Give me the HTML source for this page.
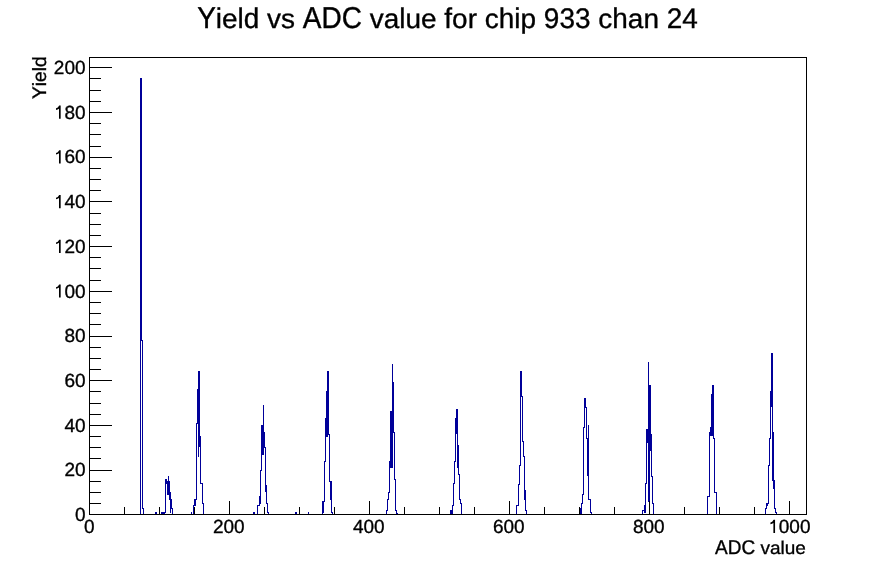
<!DOCTYPE html>
<html><head><meta charset="utf-8"><style>
html,body{margin:0;padding:0;background:#fff;width:896px;height:572px;overflow:hidden}
svg{display:block;position:absolute;left:0;top:0}
.t{filter:grayscale(1)}
text{font-family:"Liberation Sans",sans-serif;fill:#000;text-rendering:geometricPrecision}
.t text,.t path{stroke:#000;stroke-width:0.35px}
</style></head><body>
<svg width="896" height="572" viewBox="0 0 896 572">
<rect x="0" y="0" width="896" height="572" fill="#fff"/>
<g fill="#000099" shape-rendering="crispEdges"><rect x="140" y="78" width="1" height="437"/><rect x="140" y="78" width="2" height="1"/><rect x="141" y="78" width="1" height="263"/><rect x="141" y="340" width="2" height="1"/><rect x="142" y="340" width="1" height="169"/><rect x="142" y="508" width="2" height="1"/><rect x="143" y="508" width="1" height="7"/><rect x="155" y="512" width="1" height="3"/><rect x="155" y="512" width="2" height="1"/><rect x="156" y="512" width="1" height="3"/><rect x="161" y="512" width="1" height="3"/><rect x="161" y="512" width="5" height="1"/><rect x="165" y="479" width="1" height="34"/><rect x="165" y="479" width="2" height="1"/><rect x="166" y="479" width="1" height="5"/><rect x="166" y="483" width="2" height="1"/><rect x="167" y="481" width="1" height="3"/><rect x="167" y="481" width="2" height="1"/><rect x="168" y="476" width="1" height="6"/><rect x="168" y="476" width="1" height="6"/><rect x="168" y="481" width="2" height="1"/><rect x="169" y="481" width="1" height="12"/><rect x="169" y="492" width="2" height="1"/><rect x="170" y="492" width="1" height="8"/><rect x="170" y="499" width="2" height="1"/><rect x="171" y="499" width="1" height="10"/><rect x="171" y="508" width="2" height="1"/><rect x="172" y="508" width="1" height="7"/><rect x="167" y="483" width="1" height="12"/><rect x="168" y="481" width="1" height="14"/><rect x="169" y="492" width="1" height="8"/><rect x="170" y="499" width="1" height="14"/><rect x="161" y="513" width="4" height="1"/><rect x="191" y="512" width="1" height="3"/><rect x="191" y="512" width="1" height="3"/><rect x="193" y="505" width="1" height="10"/><rect x="193" y="505" width="2" height="1"/><rect x="194" y="499" width="1" height="7"/><rect x="194" y="499" width="3" height="1"/><rect x="196" y="423" width="1" height="77"/><rect x="196" y="423" width="2" height="1"/><rect x="197" y="389" width="1" height="35"/><rect x="197" y="389" width="2" height="1"/><rect x="198" y="371" width="1" height="19"/><rect x="198" y="371" width="2" height="1"/><rect x="199" y="371" width="1" height="66"/><rect x="199" y="436" width="2" height="1"/><rect x="200" y="436" width="1" height="48"/><rect x="200" y="483" width="3" height="1"/><rect x="202" y="483" width="1" height="21"/><rect x="202" y="503" width="2" height="1"/><rect x="203" y="503" width="1" height="12"/><rect x="198" y="389" width="1" height="68"/><rect x="195" y="499" width="1" height="7"/><rect x="199" y="436" width="1" height="11"/><rect x="253" y="512" width="1" height="3"/><rect x="253" y="512" width="2" height="1"/><rect x="254" y="512" width="1" height="3"/><rect x="257" y="505" width="1" height="10"/><rect x="257" y="505" width="3" height="1"/><rect x="259" y="496" width="1" height="10"/><rect x="259" y="496" width="2" height="1"/><rect x="260" y="470" width="1" height="27"/><rect x="260" y="470" width="2" height="1"/><rect x="261" y="425" width="1" height="46"/><rect x="261" y="425" width="3" height="1"/><rect x="263" y="405" width="1" height="21"/><rect x="263" y="405" width="1" height="28"/><rect x="263" y="432" width="2" height="1"/><rect x="264" y="432" width="1" height="16"/><rect x="264" y="447" width="2" height="1"/><rect x="265" y="447" width="1" height="39"/><rect x="265" y="485" width="2" height="1"/><rect x="266" y="485" width="1" height="19"/><rect x="266" y="503" width="2" height="1"/><rect x="267" y="503" width="1" height="10"/><rect x="267" y="512" width="2" height="1"/><rect x="268" y="512" width="1" height="3"/><rect x="262" y="425" width="1" height="30"/><rect x="263" y="425" width="1" height="30"/><rect x="259" y="496" width="1" height="8"/><rect x="260" y="496" width="1" height="8"/><rect x="265" y="485" width="1" height="7"/><rect x="266" y="485" width="1" height="7"/><rect x="295" y="512" width="1" height="3"/><rect x="295" y="512" width="2" height="1"/><rect x="296" y="512" width="1" height="3"/><rect x="308" y="512" width="1" height="3"/><rect x="322" y="512" width="1" height="3"/><rect x="322" y="512" width="2" height="1"/><rect x="323" y="501" width="1" height="12"/><rect x="323" y="501" width="2" height="1"/><rect x="324" y="461" width="1" height="41"/><rect x="324" y="461" width="2" height="1"/><rect x="325" y="418" width="1" height="44"/><rect x="325" y="418" width="2" height="1"/><rect x="326" y="391" width="1" height="28"/><rect x="326" y="391" width="2" height="1"/><rect x="327" y="371" width="1" height="21"/><rect x="327" y="371" width="2" height="1"/><rect x="328" y="371" width="1" height="64"/><rect x="328" y="434" width="2" height="1"/><rect x="329" y="434" width="1" height="48"/><rect x="329" y="481" width="2" height="1"/><rect x="330" y="481" width="1" height="19"/><rect x="330" y="499" width="2" height="1"/><rect x="331" y="499" width="1" height="14"/><rect x="331" y="512" width="2" height="1"/><rect x="332" y="512" width="1" height="3"/><rect x="326" y="391" width="1" height="46"/><rect x="327" y="371" width="1" height="66"/><rect x="322" y="501" width="1" height="12"/><rect x="331" y="481" width="1" height="19"/><rect x="386" y="510" width="1" height="5"/><rect x="386" y="510" width="2" height="1"/><rect x="387" y="499" width="1" height="12"/><rect x="387" y="499" width="2" height="1"/><rect x="388" y="492" width="1" height="8"/><rect x="388" y="492" width="2" height="1"/><rect x="389" y="461" width="1" height="32"/><rect x="389" y="461" width="2" height="1"/><rect x="390" y="411" width="1" height="51"/><rect x="390" y="411" width="3" height="1"/><rect x="392" y="364" width="1" height="48"/><rect x="392" y="364" width="1" height="19"/><rect x="392" y="382" width="2" height="1"/><rect x="393" y="382" width="1" height="51"/><rect x="393" y="432" width="2" height="1"/><rect x="394" y="432" width="1" height="48"/><rect x="394" y="479" width="2" height="1"/><rect x="395" y="479" width="1" height="32"/><rect x="395" y="510" width="2" height="1"/><rect x="396" y="510" width="1" height="4"/><rect x="396" y="513" width="2" height="1"/><rect x="397" y="513" width="1" height="2"/><rect x="391" y="411" width="1" height="57"/><rect x="392" y="382" width="1" height="86"/><rect x="390" y="411" width="1" height="57"/><rect x="450" y="510" width="1" height="5"/><rect x="450" y="510" width="3" height="1"/><rect x="452" y="505" width="1" height="6"/><rect x="452" y="505" width="2" height="1"/><rect x="453" y="483" width="1" height="23"/><rect x="453" y="483" width="2" height="1"/><rect x="454" y="461" width="1" height="23"/><rect x="454" y="461" width="2" height="1"/><rect x="455" y="418" width="1" height="44"/><rect x="455" y="418" width="2" height="1"/><rect x="456" y="409" width="1" height="10"/><rect x="456" y="409" width="2" height="1"/><rect x="457" y="409" width="1" height="37"/><rect x="457" y="445" width="2" height="1"/><rect x="458" y="445" width="1" height="30"/><rect x="458" y="474" width="2" height="1"/><rect x="459" y="474" width="1" height="26"/><rect x="459" y="499" width="2" height="1"/><rect x="460" y="499" width="1" height="5"/><rect x="460" y="503" width="2" height="1"/><rect x="461" y="503" width="1" height="12"/><rect x="451" y="510" width="1" height="5"/><rect x="452" y="510" width="1" height="5"/><rect x="456" y="409" width="1" height="25"/><rect x="457" y="445" width="1" height="23"/><rect x="516" y="505" width="1" height="10"/><rect x="516" y="505" width="3" height="1"/><rect x="518" y="484" width="1" height="22"/><rect x="518" y="484" width="2" height="1"/><rect x="519" y="465" width="1" height="20"/><rect x="519" y="465" width="2" height="1"/><rect x="520" y="371" width="1" height="95"/><rect x="520" y="371" width="2" height="1"/><rect x="521" y="371" width="1" height="26"/><rect x="521" y="396" width="2" height="1"/><rect x="522" y="396" width="1" height="46"/><rect x="522" y="441" width="2" height="1"/><rect x="523" y="441" width="1" height="16"/><rect x="523" y="456" width="2" height="1"/><rect x="524" y="456" width="1" height="44"/><rect x="524" y="499" width="2" height="1"/><rect x="525" y="499" width="1" height="12"/><rect x="525" y="510" width="2" height="1"/><rect x="526" y="510" width="1" height="5"/><rect x="524" y="490" width="1" height="10"/><rect x="525" y="490" width="1" height="10"/><rect x="526" y="510" width="1" height="5"/><rect x="580" y="508" width="1" height="7"/><rect x="580" y="508" width="2" height="1"/><rect x="581" y="503" width="1" height="6"/><rect x="581" y="503" width="2" height="1"/><rect x="582" y="494" width="1" height="10"/><rect x="582" y="494" width="2" height="1"/><rect x="583" y="427" width="1" height="68"/><rect x="583" y="427" width="2" height="1"/><rect x="584" y="398" width="1" height="30"/><rect x="584" y="398" width="2" height="1"/><rect x="585" y="398" width="1" height="10"/><rect x="585" y="407" width="2" height="1"/><rect x="586" y="407" width="1" height="32"/><rect x="586" y="438" width="2" height="1"/><rect x="587" y="438" width="1" height="38"/><rect x="588" y="425" width="1" height="75"/><rect x="588" y="499" width="3" height="1"/><rect x="590" y="499" width="1" height="14"/><rect x="590" y="512" width="2" height="1"/><rect x="591" y="512" width="1" height="3"/><rect x="581" y="508" width="1" height="7"/><rect x="584" y="398" width="1" height="10"/><rect x="587" y="438" width="2" height="1"/><rect x="642" y="510" width="1" height="5"/><rect x="642" y="510" width="3" height="1"/><rect x="644" y="505" width="1" height="6"/><rect x="644" y="505" width="2" height="1"/><rect x="645" y="483" width="1" height="23"/><rect x="645" y="483" width="2" height="1"/><rect x="646" y="429" width="1" height="55"/><rect x="646" y="429" width="3" height="1"/><rect x="648" y="362" width="1" height="68"/><rect x="648" y="362" width="1" height="24"/><rect x="648" y="385" width="3" height="1"/><rect x="650" y="385" width="1" height="50"/><rect x="650" y="434" width="2" height="1"/><rect x="651" y="434" width="1" height="43"/><rect x="651" y="476" width="2" height="1"/><rect x="652" y="476" width="1" height="28"/><rect x="652" y="503" width="2" height="1"/><rect x="653" y="503" width="1" height="12"/><rect x="644" y="505" width="1" height="8"/><rect x="645" y="505" width="1" height="8"/><rect x="647" y="429" width="1" height="14"/><rect x="648" y="385" width="1" height="117"/><rect x="649" y="385" width="1" height="116"/><rect x="650" y="434" width="1" height="17"/><rect x="707" y="496" width="1" height="19"/><rect x="707" y="496" width="3" height="1"/><rect x="709" y="432" width="1" height="65"/><rect x="709" y="432" width="2" height="1"/><rect x="710" y="427" width="1" height="6"/><rect x="710" y="427" width="2" height="1"/><rect x="711" y="394" width="1" height="34"/><rect x="711" y="394" width="2" height="1"/><rect x="712" y="385" width="1" height="10"/><rect x="712" y="385" width="2" height="1"/><rect x="713" y="385" width="1" height="54"/><rect x="713" y="438" width="2" height="1"/><rect x="714" y="438" width="1" height="55"/><rect x="714" y="492" width="3" height="1"/><rect x="716" y="492" width="1" height="23"/><rect x="710" y="427" width="1" height="9"/><rect x="711" y="394" width="1" height="42"/><rect x="712" y="385" width="1" height="51"/><rect x="765" y="508" width="1" height="7"/><rect x="765" y="508" width="2" height="1"/><rect x="766" y="503" width="1" height="6"/><rect x="766" y="503" width="3" height="1"/><rect x="768" y="465" width="1" height="39"/><rect x="768" y="465" width="2" height="1"/><rect x="769" y="438" width="1" height="28"/><rect x="769" y="438" width="2" height="1"/><rect x="770" y="391" width="1" height="48"/><rect x="770" y="391" width="2" height="1"/><rect x="771" y="353" width="1" height="39"/><rect x="771" y="353" width="2" height="1"/><rect x="772" y="353" width="1" height="80"/><rect x="772" y="432" width="2" height="1"/><rect x="773" y="432" width="1" height="49"/><rect x="773" y="480" width="2" height="1"/><rect x="774" y="480" width="1" height="29"/><rect x="774" y="508" width="2" height="1"/><rect x="775" y="508" width="1" height="5"/><rect x="775" y="512" width="2" height="1"/><rect x="776" y="512" width="1" height="3"/><rect x="771" y="353" width="1" height="54"/><rect x="772" y="432" width="1" height="49"/><rect x="773" y="480" width="1" height="9"/><rect x="767" y="503" width="1" height="3"/><rect x="766" y="503" width="1" height="3"/></g>
<g fill="#000" shape-rendering="crispEdges"><rect x="89" y="57" width="718" height="1"/><rect x="89" y="514" width="718" height="1"/><rect x="89" y="57" width="1" height="458"/><rect x="806" y="57" width="1" height="458"/><rect x="89" y="514" width="23" height="1"/><rect x="89" y="503" width="12" height="1"/><rect x="89" y="492" width="12" height="1"/><rect x="89" y="481" width="12" height="1"/><rect x="89" y="470" width="23" height="1"/><rect x="89" y="458" width="12" height="1"/><rect x="89" y="447" width="12" height="1"/><rect x="89" y="436" width="12" height="1"/><rect x="89" y="425" width="23" height="1"/><rect x="89" y="414" width="12" height="1"/><rect x="89" y="403" width="12" height="1"/><rect x="89" y="391" width="12" height="1"/><rect x="89" y="380" width="23" height="1"/><rect x="89" y="369" width="12" height="1"/><rect x="89" y="358" width="12" height="1"/><rect x="89" y="347" width="12" height="1"/><rect x="89" y="336" width="23" height="1"/><rect x="89" y="324" width="12" height="1"/><rect x="89" y="313" width="12" height="1"/><rect x="89" y="302" width="12" height="1"/><rect x="89" y="291" width="23" height="1"/><rect x="89" y="280" width="12" height="1"/><rect x="89" y="268" width="12" height="1"/><rect x="89" y="257" width="12" height="1"/><rect x="89" y="246" width="23" height="1"/><rect x="89" y="235" width="12" height="1"/><rect x="89" y="224" width="12" height="1"/><rect x="89" y="213" width="12" height="1"/><rect x="89" y="201" width="23" height="1"/><rect x="89" y="190" width="12" height="1"/><rect x="89" y="179" width="12" height="1"/><rect x="89" y="168" width="12" height="1"/><rect x="89" y="157" width="23" height="1"/><rect x="89" y="146" width="12" height="1"/><rect x="89" y="134" width="12" height="1"/><rect x="89" y="123" width="12" height="1"/><rect x="89" y="112" width="23" height="1"/><rect x="89" y="101" width="12" height="1"/><rect x="89" y="90" width="12" height="1"/><rect x="89" y="78" width="12" height="1"/><rect x="89" y="67" width="23" height="1"/><rect x="89" y="501" width="1" height="14"/><rect x="124" y="507" width="1" height="8"/><rect x="159" y="507" width="1" height="8"/><rect x="194" y="507" width="1" height="8"/><rect x="229" y="501" width="1" height="14"/><rect x="264" y="507" width="1" height="8"/><rect x="299" y="507" width="1" height="8"/><rect x="334" y="507" width="1" height="8"/><rect x="369" y="501" width="1" height="14"/><rect x="404" y="507" width="1" height="8"/><rect x="439" y="507" width="1" height="8"/><rect x="474" y="507" width="1" height="8"/><rect x="509" y="501" width="1" height="14"/><rect x="544" y="507" width="1" height="8"/><rect x="579" y="507" width="1" height="8"/><rect x="614" y="507" width="1" height="8"/><rect x="649" y="501" width="1" height="14"/><rect x="684" y="507" width="1" height="8"/><rect x="719" y="507" width="1" height="8"/><rect x="754" y="507" width="1" height="8"/><rect x="789" y="501" width="1" height="14"/></g>
</svg>
<svg class="t" width="896" height="572" viewBox="0 0 896 572">
<g font-size="27.97"><text transform="translate(197.14,27.8) scale(1,1.08)">Y</text><text transform="translate(215.80,27.8) scale(1,1.02)">i</text><text transform="translate(222.01,27.8) scale(1,0.975)">e</text><text transform="translate(237.57,27.8) scale(1,1.02)">l</text><text transform="translate(243.79,27.8) scale(1,1.02)">d</text><text transform="translate(267.12,27.8) scale(1,0.975)">v</text><text transform="translate(281.10,27.8) scale(1,0.975)">s</text><text transform="translate(302.86,27.8) scale(1,1.08)">A</text><text transform="translate(321.52,27.8) scale(1,1.08)">D</text><text transform="translate(341.72,27.8) scale(1,1.08)">C</text><text transform="translate(369.69,27.8) scale(1,0.975)">v</text><text transform="translate(383.68,27.8) scale(1,0.975)">a</text><text transform="translate(399.24,27.8) scale(1,1.02)">l</text><text transform="translate(405.45,27.8) scale(1,0.975)">u</text><text transform="translate(421.01,27.8) scale(1,0.975)">e</text><text transform="translate(444.34,27.8) scale(1,1.02)">f</text><text transform="translate(452.11,27.8) scale(1,0.975)">o</text><text transform="translate(467.66,27.8) scale(1,0.975)">r</text><text transform="translate(484.75,27.8) scale(1,0.975)">c</text><text transform="translate(498.74,27.8) scale(1,1.02)">h</text><text transform="translate(514.30,27.8) scale(1,1.02)">i</text><text transform="translate(520.51,27.8) scale(1,0.975)">p</text><text transform="translate(543.84,27.8) scale(1,1.01)">9</text><text transform="translate(559.40,27.8) scale(1,1.01)">3</text><text transform="translate(574.95,27.8) scale(1,1.01)">3</text><text transform="translate(598.28,27.8) scale(1,0.975)">c</text><text transform="translate(612.27,27.8) scale(1,1.02)">h</text><text transform="translate(627.83,27.8) scale(1,0.975)">a</text><text transform="translate(643.38,27.8) scale(1,0.975)">n</text><text transform="translate(666.71,27.8) scale(1,1.01)">2</text><text transform="translate(682.27,27.8) scale(1,1.01)">4</text></g>
<g font-size="19"><text transform="translate(85.55,521.07) scale(1,1.0)" text-anchor="end">0</text><text transform="translate(85.55,476.37) scale(1,1.0)" text-anchor="end">20</text><text transform="translate(85.55,431.67) scale(1,1.0)" text-anchor="end">40</text><text transform="translate(85.55,386.97) scale(1,1.0)" text-anchor="end">60</text><text transform="translate(85.55,342.28) scale(1,1.0)" text-anchor="end">80</text><path transform="translate(53.85,297.58) scale(0.009277,-0.009277)" d="M555 0L555 1090Q430 975 235 955L235 1125Q450 1160 575 1420L735 1420L735 0Z"/><text transform="translate(85.55,297.58) scale(1,1.0)" text-anchor="end">00</text><path transform="translate(53.85,252.88) scale(0.009277,-0.009277)" d="M555 0L555 1090Q430 975 235 955L235 1125Q450 1160 575 1420L735 1420L735 0Z"/><text transform="translate(85.55,252.88) scale(1,1.0)" text-anchor="end">20</text><path transform="translate(53.85,208.18) scale(0.009277,-0.009277)" d="M555 0L555 1090Q430 975 235 955L235 1125Q450 1160 575 1420L735 1420L735 0Z"/><text transform="translate(85.55,208.18) scale(1,1.0)" text-anchor="end">40</text><path transform="translate(53.85,163.48) scale(0.009277,-0.009277)" d="M555 0L555 1090Q430 975 235 955L235 1125Q450 1160 575 1420L735 1420L735 0Z"/><text transform="translate(85.55,163.48) scale(1,1.0)" text-anchor="end">60</text><path transform="translate(53.85,118.78) scale(0.009277,-0.009277)" d="M555 0L555 1090Q430 975 235 955L235 1125Q450 1160 575 1420L735 1420L735 0Z"/><text transform="translate(85.55,118.78) scale(1,1.0)" text-anchor="end">80</text><text transform="translate(85.55,74.09) scale(1,1.0)" text-anchor="end">200</text><text transform="translate(84.08,533) scale(1,1.0)">0</text><text transform="translate(212.97,533) scale(1,1.0)">200</text><text transform="translate(352.97,533) scale(1,1.0)">400</text><text transform="translate(492.97,533) scale(1,1.0)">600</text><text transform="translate(632.97,533) scale(1,1.0)">800</text><path transform="translate(768.24,533.00) scale(0.009277,-0.009277)" d="M555 0L555 1090Q430 975 235 955L235 1125Q450 1160 575 1420L735 1420L735 0Z"/><text transform="translate(778.80,533) scale(1,1.0)">000</text>
<text transform="translate(715.06,553.7) scale(1,1.045)">A</text><text transform="translate(727.73,553.7) scale(1,1.045)">D</text><text transform="translate(741.45,553.7) scale(1,1.045)">C</text><text transform="translate(760.45,553.7) scale(1,0.943)">v</text><text transform="translate(769.95,553.7) scale(1,0.943)">a</text><text transform="translate(780.52,553.7) scale(1,0.968)">l</text><text transform="translate(784.74,553.7) scale(1,0.943)">u</text><text transform="translate(795.31,553.7) scale(1,0.943)">e</text>
<g font-size="19.17"><text transform="translate(45.85,99.02) rotate(-90) scale(1,1.023)">Y</text><text transform="translate(45.85,86.23) rotate(-90) scale(1,1.0)">i</text><text transform="translate(45.85,81.97) rotate(-90) scale(1,1.0)">e</text><text transform="translate(45.85,71.31) rotate(-90) scale(1,1.0)">l</text><text transform="translate(45.85,67.05) rotate(-90) scale(1,1.0)">d</text></g>
</g>
</svg>
</body></html>
